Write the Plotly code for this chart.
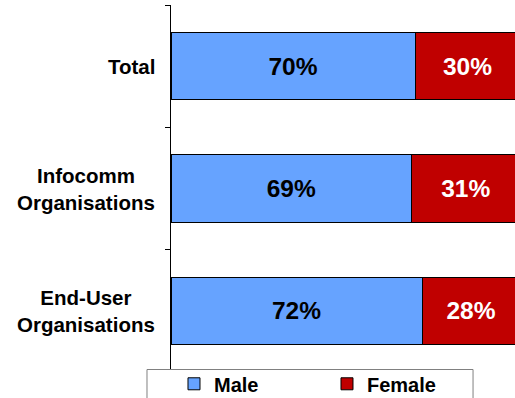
import plotly.graph_objects as go

categories = ["Total", "Infocomm<br>Organisations", "End-User<br>Organisations"]
male = [70, 69, 72]
female = [30, 31, 28]

MALE_COLOR = "#66A3FF"
FEMALE_COLOR = "#C00000"
FONT = "Liberation Sans, Arial, sans-serif"

pos = list(range(len(categories)))

fig = go.Figure()
fig.add_trace(go.Bar(
    y=pos, x=male, orientation="h", name="<b>Male</b>", width=0.55,
    marker=dict(color=MALE_COLOR, line=dict(color="#000000", width=1)),
    text=[f"<b>{v}%</b>" for v in male], textposition="inside",
    insidetextanchor="middle", textangle=0,
    textfont=dict(family=FONT, size=24.5, color="#000000"),
))
fig.add_trace(go.Bar(
    y=pos, x=female, orientation="h", name="<b>Female</b>", width=0.55,
    marker=dict(color=FEMALE_COLOR, line=dict(color="#000000", width=1)),
    text=[f"<b>{v}%</b>" for v in female], textposition="inside",
    insidetextanchor="middle", textangle=0,
    textfont=dict(family=FONT, size=24.5, color="#FFFFFF"),
))

# category labels to the left of the axis
for p, c in zip(pos, categories):
    fig.add_annotation(
        x=0, y=p, xref="paper", yref="y", xanchor="right", yanchor="middle",
        xshift=-14, text=f"<b>{c}</b>", showarrow=False, align="center",
        font=dict(family=FONT, size=20.5, color="#000000"),
    )

# legend frame
fig.add_shape(
    type="rect", xref="paper", yref="paper",
    x0=-0.0698, x1=0.878, y0=-0.2, y1=0.0068,
    fillcolor="#FFFFFF", line=dict(color="#808080", width=1), layer="above",
)

fig.update_layout(
    barmode="stack",
    width=515, height=398,
    margin=dict(l=171, r=0, t=5, b=25.5, autoexpand=False),
    plot_bgcolor="#FFFFFF", paper_bgcolor="#FFFFFF",
    showlegend=True,
    legend=dict(
        orientation="h", x=0.0087, y=0.021, xanchor="left", yanchor="top",
        bgcolor="rgba(0,0,0,0)", borderwidth=0,
        font=dict(family=FONT, size=20, color="#000000"),
        entrywidth=108, traceorder="normal",
    ),
    xaxis=dict(range=[0, 98.6], showgrid=False, zeroline=False,
               showline=False, showticklabels=False, ticks=""),
    yaxis=dict(range=[2.5, -0.5], showgrid=False, zeroline=False,
               showline=True, linecolor="#000000", linewidth=1,
               tickvals=[-0.5, 0.5, 1.5, 2.5], ticks="outside", ticklen=5,
               tickcolor="#000000", showticklabels=False),
)

fig.write_html("out.html")
